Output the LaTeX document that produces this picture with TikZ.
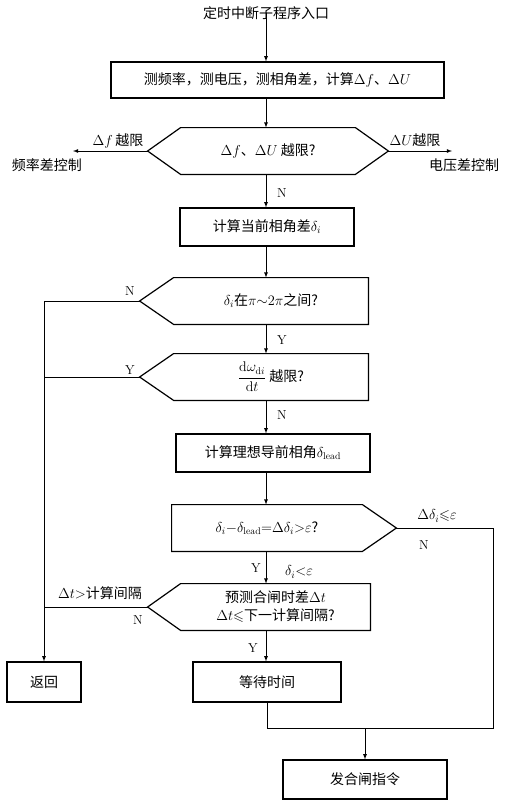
\documentclass[tikz,border=0pt]{standalone}
\usepackage{amsmath}
\usepackage{amssymb}
\usepackage{fontspec}
\usepackage{tikz}
\usetikzlibrary{positioning,arrows}
\newfontfamily\cjk{Noto Sans CJK SC}

\begin{document}
\begin{tikzpicture}[x=1pt,y=-1pt,line width=0.8pt,>=latex]
\tikzstyle{every node}+=[inner sep=0pt,font=\cjk\fontsize{14}{18}\selectfont]
\tikzstyle{box}=[draw,line width=1.2pt,minimum height=38pt]
\tikzstyle{cond}=[minimum height=46pt,align=center]
\tikzstyle{frame}=[draw,line width=1.2pt]
\tikzstyle{yn}=[font=\rmfamily\fontsize{13}{15}\selectfont]
\tikzstyle{arr}=[->]
\useasboundingbox (0,0) rectangle (512,806);

% nodes of the main column
\node (title) at (266,13) {定时中断子程序入口};
\node[box,minimum width=333pt,minimum height=36pt] (meas) at (277.5,80) {测频率，测电压，测相角差，计算$\Delta f$、$\Delta U$};
\node[cond,minimum width=174pt] (lim) at (268,151) {$\Delta f$、$\Delta U$\ 越限?};
\node[box,minimum width=174pt] (phase) at (267,227) {计算当前相角差$\delta_i$};
\node[cond,minimum width=194pt] (range) at (271,301) {$\delta_i$在$\pi{\sim}2\pi$之间?};
\node[cond,minimum width=194pt] (rate) at (271,377) {$\dfrac{\mathrm{d}\omega_{\mathrm{d}i}}{\mathrm{d}t}$\ 越限?};
\node[box,minimum width=194pt] (lead) at (273,453) {计算理想导前相角$\delta_{\mathrm{lead}}$};
\node[cond,minimum width=190pt] (err) at (267,528) {$\delta_i{-}\delta_{\mathrm{lead}}{=}\Delta\delta_i{>}\varepsilon$?};
\node[cond,minimum width=189pt] (pred) at (275.5,607) {预测合闸时差$\Delta t$\\$\Delta t{\leqslant}$下一计算间隔?};
\node[box,minimum width=74pt,minimum height=40pt] (ret) at (44,682) {返回};
\node[box,minimum width=148pt,minimum height=40pt] (wait) at (267,682) {等待时间};
\node[box,minimum width=164pt,minimum height=39pt] (close) at (365,779.5) {发合闸指令};

% side targets
\node (fctl) at (47,165) {频率差控制};
\node (uctl) at (464,165) {电压差控制};
\coordinate (fend) at (73,151);
\coordinate (uend) at (452,151);

% tips of the decision shapes
\coordinate (limL) at ([xshift=-33pt]lim.west);
\coordinate (limR) at ([xshift=33pt]lim.east);
\coordinate (rangeL) at ([xshift=-34pt]range.west);
\coordinate (rateL) at ([xshift=-34pt]rate.west);
\coordinate (errR) at ([xshift=34pt]err.east);
\coordinate (predL) at ([xshift=-33pt]pred.west);
\coordinate (rcorner) at (493,728);
\coordinate (join) at (365,728);

\draw[frame] (limL) -- (lim.north west) -- (lim.north east) -- (limR) -- (lim.south east) -- (lim.south west) -- cycle;
\draw[frame] (rangeL) -- (range.north west) -- (range.north east) -- (range.south east) -- (range.south west) -- cycle;
\draw[frame] (rateL) -- (rate.north west) -- (rate.north east) -- (rate.south east) -- (rate.south west) -- cycle;
\draw[frame] (err.north west) -- (err.north east) -- (errR) -- (err.south east) -- (err.south west) -- cycle;
\draw[frame] (predL) -- (pred.north west) -- (pred.north east) -- (pred.south east) -- (pred.south west) -- cycle;

% connectors
\draw[arr] ([yshift=7pt]title.south) -- (title.south |- meas.north);
\draw[arr] (meas.south -| title) -- (lim.north -| title);
\draw[arr] (lim.south -| title) -- (phase.north -| title);
\draw[arr] (phase.south -| title) -- (range.north -| title);
\draw[arr] (range.south -| title) -- (rate.north -| title);
\draw[arr] (rate.south -| title) -- (lead.north -| title);
\draw[arr] (lead.south -| title) -- (err.north -| title);
\draw[arr] (err.south -| title) -- (pred.north -| title);
\draw[arr] (pred.south -| title) -- (wait.north -| title);
\draw[arr] (limL) -- (fend);
\draw[arr] (limR) -- (uend);
\draw[arr] (rangeL) -| (ret.north);
\draw (rateL) -- (rateL -| ret);
\draw (predL) -- (predL -| ret);
\draw (errR) -| (rcorner) -- (join);
\draw (wait.south) |- (join);
\draw[arr] (join) -- (close.north);

% labels
\node (flab) at (118,141) {$\Delta f$\,越限};
\node (ulab) at (415,140) {$\Delta U$越限};
\node[yn] (n1) at (282,193) {N};
\node[yn] (n2) at (130,291) {N};
\node[yn] (y1) at (282,340) {Y};
\node[yn] (y2) at (130,370) {Y};
\node[yn] (n3) at (282,415) {N};
\node (elab) at (437,516) {$\Delta\delta_i{\leqslant}\varepsilon$};
\node[yn] (n4) at (424,545) {N};
\node[yn] (y3) at (256,568) {Y};
\node (slab) at (299,572) {$\delta_i{<}\varepsilon$};
\node (tlab) at (100,593) {$\Delta t{>}$计算间隔};
\node[yn] (n5) at (138,620) {N};
\node[yn] (y4) at (253,648) {Y};
\end{tikzpicture}
\end{document}
